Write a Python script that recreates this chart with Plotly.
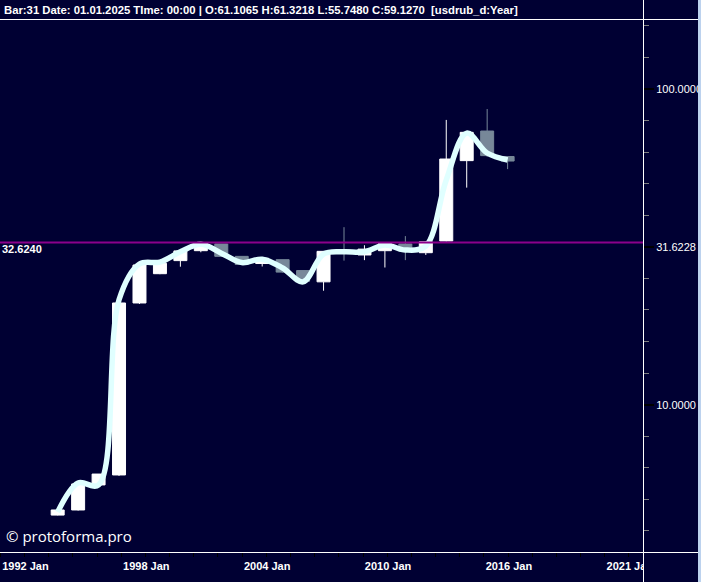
import math
import plotly.graph_objects as go

# ---------------- data ----------------
bar_index = list(range(23))
opens  = [4.47, 4.64, 5.57, 5.99, 21.0, 26.0, 28.6, 30.75, 32.3, 29.5, 28.0, 28.8, 26.6,
          24.5, 30.9, 29.8, 30.75, 32.3, 30.3, 33.0, 59.3, 73.6, 61.1065]
highs  = [4.65, 5.61, 6.03, 21.0, 27.7, 28.1, 30.8, 32.5, 32.3, 29.5, 29.2, 28.8, 26.6,
          30.7, 36.5, 32.0, 32.5, 34.2, 32.9, 79.8, 73.5, 86.4, 61.3218]
lows   = [4.46, 4.62, 5.57, 5.95, 20.85, 25.9, 27.36, 30.4, 29.4, 27.7, 27.4, 26.2, 24.5,
          22.96, 28.6, 28.7, 27.2, 28.7, 29.8, 32.9, 48.7, 61.0, 55.748]
closes = [4.64, 5.61, 6.03, 21.0, 27.7, 28.05, 30.7, 32.44, 29.5, 27.8, 29.1, 26.3, 24.6,
          30.6, 30.3, 31.1, 32.4, 30.6, 32.8, 60.0, 72.9, 61.5, 59.127]
smooth = [4.57, 5.65, 5.57, 21.5, 27.9, 28.3, 30.5, 32.2, 30.2, 28.2, 28.9, 27.1, 24.5,
          30.0, 30.5, 30.5, 32.05, 30.9, 31.8, 51.5, 72.5, 62.7, 59.6]
level = 32.6240

x_labels = ["1992 Jan", "1998 Jan", "2004 Jan", "2010 Jan", "2016 Jan", "2021 Jan"]
x_label_first = -2.80
x_label_step = 5.91

y_major_vals = [10.0, 31.6228, 100.0]
y_major_text = ["10.0000", "31.6228", "100.0000"]

header = ("Bar:31 Date: 01.01.2025 TIme: 00:00 | O:61.1065 H:61.3218 L:55.7480 "
          "C:59.1270  [usdrub_d:Year]")
watermark = "© protoforma.pro"

# ---------------- style ----------------
BG = "#000033"
UP = "#FFFFFF"
DOWN = "#778899"
CURVE = "#E0FFFF"
PURPLE = "#8B008B"

W, H = 701, 582
ML, MR, MT, MB = 0, 58, 19, 30
PW, PH = W - ML - MR, H - MT - MB

x_range = [-2.82, 28.62]
y_range = [0.5334, 2.2217]

fig = go.Figure()

fig.add_trace(go.Candlestick(
    x=bar_index, open=opens, high=highs, low=lows, close=closes,
    increasing=dict(line=dict(color=UP, width=1), fillcolor=UP),
    decreasing=dict(line=dict(color=DOWN, width=1), fillcolor=DOWN),
    whiskerwidth=0, showlegend=False, hoverinfo="skip",
))

fig.add_trace(go.Scatter(
    x=bar_index, y=smooth, mode="lines",
    line=dict(color=CURVE, width=5.5, shape="spline", smoothing=1.0),
    showlegend=False, hoverinfo="skip",
))

x_tickvals = [x_label_first + i * x_label_step for i in range(len(x_labels))]
minor_y = [10 ** (k / 10) for k in range(5, 23) if k % 5 != 0]

fig.update_xaxes(
    range=x_range, showgrid=False, zeroline=False, showline=False,
    rangeslider=dict(visible=False),
    tickmode="array", tickvals=x_tickvals, ticktext=x_labels,
    ticks="outside", ticklen=4, tickwidth=1, tickcolor="black",
    ticklabelshift=25,
    tickfont=dict(family="Liberation Sans", size=11, color="white", weight="bold"),
    minor=dict(tickmode="linear", tick0=x_label_first, dtick=x_label_step / 5,
               ticks="outside", ticklen=4, tickcolor="black", tickwidth=1, showgrid=False),
)
fig.update_yaxes(
    type="log", range=y_range, side="right", showgrid=False, zeroline=False, showline=False,
    tickmode="array", tickvals=y_major_vals, ticktext=y_major_text,
    ticks="outside", ticklen=10, tickwidth=2, tickcolor="black",
    tickfont=dict(family="Liberation Sans", size=11, color="white"),
    minor=dict(tickmode="array", tickvals=minor_y, ticks="outside", ticklen=5,
               tickcolor="#808080", tickwidth=1, showgrid=False),
)

px = lambda p: (p - ML) / PW          # pixel -> paper x
py = lambda p: (H - MB - p) / PH      # pixel -> paper y

shapes = [
    # level line
    dict(type="line", xref="paper", yref="y", x0=0, x1=1, y0=level, y1=level,
         line=dict(color=PURPLE, width=2), layer="above"),
    # cover bottom-right strip (clips last date label)
    dict(type="rect", xref="paper", yref="paper", x0=px(643.5), x1=px(W + 2),
         y0=py(H + 2), y1=py(553), fillcolor=BG, line=dict(width=0), layer="above"),
    # frame lines
    dict(type="line", xref="paper", yref="paper", x0=px(-2), x1=px(W + 2),
         y0=py(19.5), y1=py(19.5), line=dict(color="white", width=1), layer="above"),
    dict(type="line", xref="paper", yref="paper", x0=px(-2), x1=px(W + 2),
         y0=py(552.5), y1=py(552.5), line=dict(color="white", width=1), layer="above"),
    dict(type="line", xref="paper", yref="paper", x0=px(643.5), x1=px(643.5),
         y0=py(H + 2), y1=py(-2), line=dict(color="white", width=1), layer="above"),
    # window edge
    dict(type="rect", xref="paper", yref="paper", x0=px(698), x1=px(W + 2),
         y0=py(H + 2), y1=py(-2), fillcolor="#BCD2EE", line=dict(width=0), layer="above"),
]

annotations = [
    dict(text=header, xref="paper", yref="paper", x=px(2), y=py(9.5),
         xanchor="left", yanchor="middle", showarrow=False,
         font=dict(family="Liberation Sans", size=11.3, color="white", weight="bold")),
    dict(text=f"{level:.4f}", xref="paper", yref="y", x=0, y=math.log10(level),
         xanchor="left", yanchor="middle", yshift=-6, showarrow=False,
         font=dict(family="Liberation Sans", size=11, color="white", weight="bold")),
    dict(text=watermark, xref="paper", yref="paper", x=px(4), y=py(536),
         xanchor="left", yanchor="middle", showarrow=False,
         font=dict(family="Open Sans", size=15, color="white")),
]

fig.update_layout(
    width=W, height=H, autosize=False,
    margin=dict(l=ML, r=MR, t=MT, b=MB, pad=0),
    paper_bgcolor=BG, plot_bgcolor=BG,
    boxgap=0.365, boxgroupgap=0,
    shapes=shapes, annotations=annotations,
    showlegend=False,
)

fig.write_html(
    "out.html",
    config={"displayModeBar": False},
    post_script="document.body.style.margin='0';document.body.style.overflow='hidden';"
                "document.body.style.background='" + BG + "';",
)
